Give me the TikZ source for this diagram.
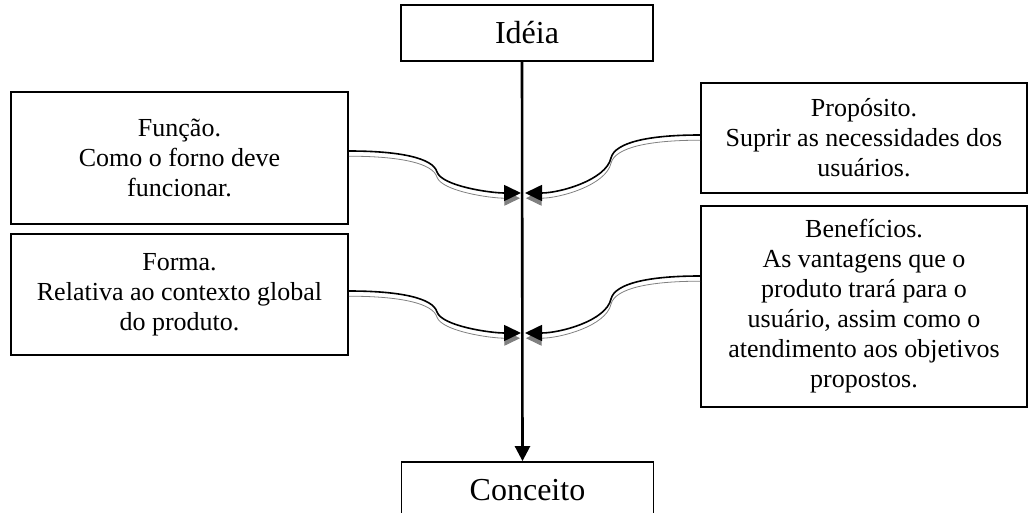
\documentclass[tikz,border=0pt]{standalone}
\usepackage{fontspec}
\setmainfont{Liberation Serif}
\usetikzlibrary{positioning, arrows.meta}

\begin{document}
\begin{tikzpicture}[
    x=0.5pt, y=-0.5pt,
    stage/.style={rectangle, draw, line width=0.9pt, minimum width=126pt, minimum height=28pt, font=\fontsize{16}{19}\selectfont},
    topic/.style={rectangle, draw, line width=0.9pt, align=center, font=\fontsize{13}{15}\selectfont},
    arrow/.style={-{Triangle[length=7.5pt, width=7.5pt]}, line width=1.3pt},
    link/.style={-{Triangle[length=8.5pt, width=8pt]}, line width=0.8pt,
        preaction={draw=gray, transform canvas={yshift=-2.6pt}}}
]
\useasboundingbox (0,0) rectangle (1029,513);

% Nodes
\node (Ideia) [stage] at (527,33) {Idéia};
\node (Conceito) [stage] at (527.5,490) {Conceito};

\node (Funcao) [topic, minimum width=168.5pt, minimum height=66pt] at (179.5,158) {Função.\\Como o forno deve\\funcionar.};
\node (Forma) [topic, minimum width=168.5pt, minimum height=60.5pt] at (179.5,294.5) {Forma.\\Relativa ao contexto global\\do produto.};
\node (Proposito) [topic, minimum width=163pt, minimum height=55pt] at (864,138) {Propósito.\\Suprir as necessidades dos\\usuários.};
\node (Beneficios) [topic, minimum width=163pt, minimum height=100.5pt] at (864,306.5) {Benefícios.\\As vantagens que o\\produto trará para o\\usuário, assim como o\\atendimento aos objetivos\\propostos.};

\coordinate (MeetTop) at (523,193);
\coordinate (MeetLow) at (523,333);

% Arrows
\draw [arrow] ([xshift=-2.5pt]Ideia.south) -- ([xshift=-2.5pt]Conceito.north);

\draw [link] ([yshift=3.5pt]Funcao.east) .. controls (400,151) and (433,158) .. (437,172) .. controls (442,186) and (490,193) .. ([xshift=-1pt]MeetTop);
\draw [link] ([yshift=1.5pt]Proposito.west) .. controls (650,135) and (615,142) .. (611,158) .. controls (606,180) and (560,193) .. ([xshift=1pt]MeetTop);
\draw [link] ([yshift=1.75pt]Forma.east) .. controls (400,291) and (433,298) .. (437,312) .. controls (442,326) and (490,333) .. ([xshift=-1pt]MeetLow);
\draw [link] ([yshift=15.25pt]Beneficios.west) .. controls (650,276) and (615,283) .. (611,299) .. controls (606,321) and (560,333) .. ([xshift=1pt]MeetLow);

\end{tikzpicture}
\end{document}
